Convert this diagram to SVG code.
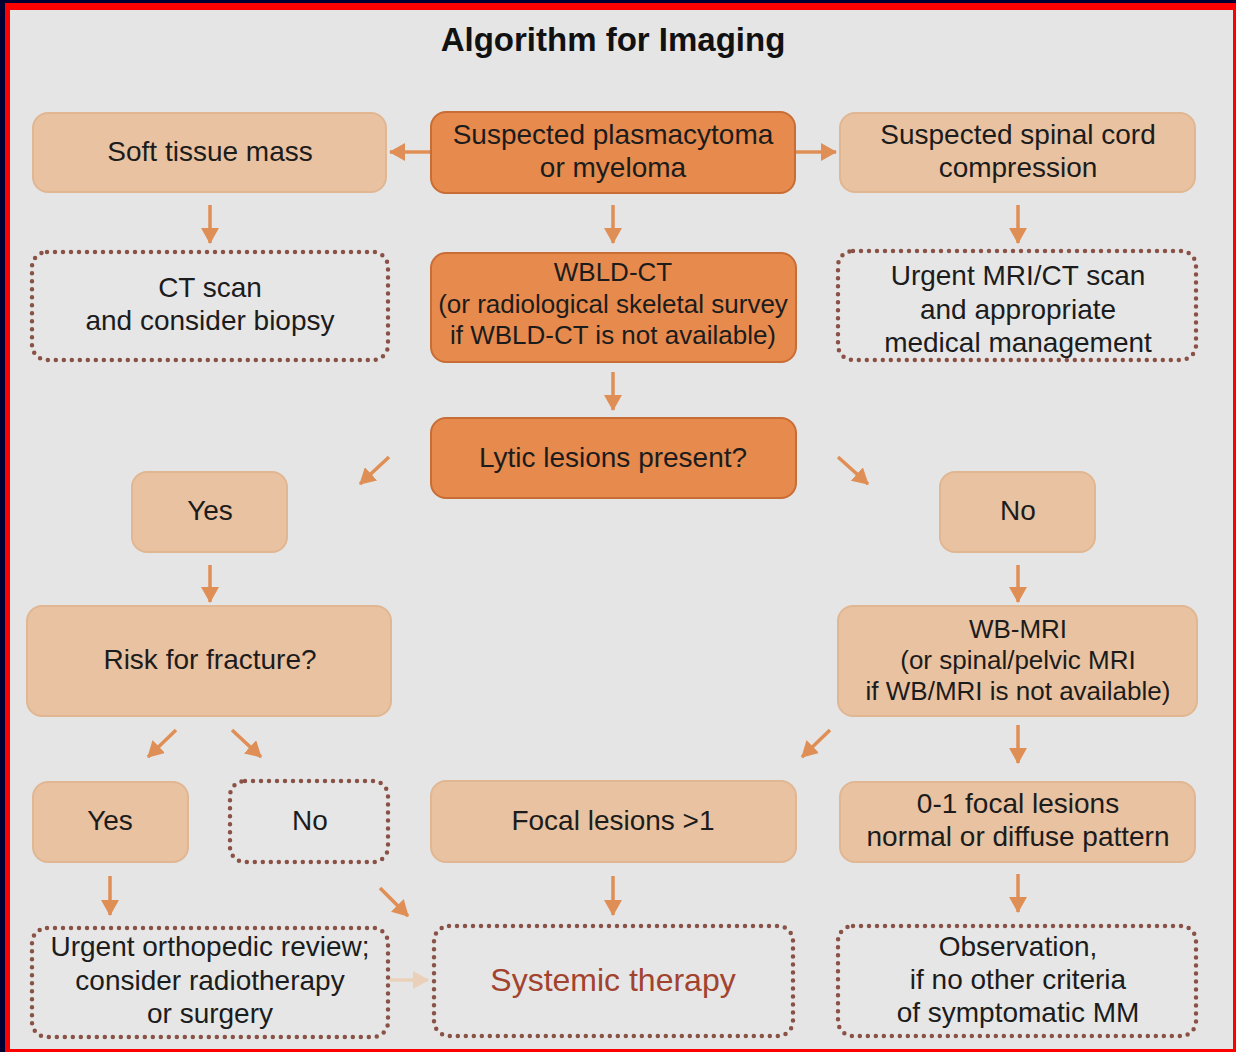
<svg xmlns="http://www.w3.org/2000/svg" width="1236" height="1052" viewBox="0 0 1236 1052">
<defs>
<style>
.t{font-family:"Liberation Sans",Arial,sans-serif;font-size:28px;fill:#1c1c1c;text-anchor:middle}
.s{font-size:26px}
.light{fill:#e9c2a1;stroke:#e1b793;stroke-width:2}
.dark{fill:#e68a4d;stroke:#c96d36;stroke-width:2}
.dot{fill:#e6e6e6;stroke:#8a5246;stroke-width:4.5;stroke-dasharray:0 8;stroke-linecap:round}
.ar{stroke:#df8f55;stroke-width:3.5;fill:none;marker-end:url(#ah)}
.arl{stroke:#ead0b8;stroke-width:3.5;fill:none;marker-end:url(#ahl)}
</style>
<marker id="ah" markerUnits="userSpaceOnUse" markerWidth="18" markerHeight="18" refX="15" refY="9" orient="auto"><path d="M0,0 L16,9 L0,18 z" fill="#df8f55"/></marker>
<marker id="ahl" markerUnits="userSpaceOnUse" markerWidth="18" markerHeight="18" refX="15" refY="9" orient="auto"><path d="M0,0 L16,9 L0,18 z" fill="#ead0b8"/></marker>
</defs>
<rect x="0" y="0" width="1236" height="1052" fill="#000033"/>
<rect x="5" y="3" width="1231" height="1049" fill="#ff0000"/>
<rect x="10" y="10" width="1223" height="1039" fill="#e5e5e5"/>
<text x="613" y="51" style="font-family:'Liberation Sans',Arial,sans-serif;font-size:33px;font-weight:bold;fill:#111;text-anchor:middle">Algorithm for Imaging</text>

<g id="connectors">
<path class="ar" d="M430,152 L390,152"/>
<path class="ar" d="M796,152 L836,152"/>
<path class="ar" d="M210,205 L210,243"/>
<path class="ar" d="M613,205 L613,243"/>
<path class="ar" d="M1018,205 L1018,243"/>
<path class="ar" d="M613,372 L613,410"/>
<path class="ar" d="M389,457 L360,484"/>
<path class="ar" d="M838,457 L868,484"/>
<path class="ar" d="M210,565 L210,602"/>
<path class="ar" d="M1018,565 L1018,602"/>
<path class="ar" d="M176,730 L148,757"/>
<path class="ar" d="M232,730 L261,757"/>
<path class="ar" d="M830,730 L802,757"/>
<path class="ar" d="M1018,725 L1018,763"/>
<path class="ar" d="M110,876 L110,915"/>
<path class="ar" d="M380,888 L408,916"/>
<path class="ar" d="M613,876 L613,915"/>
<path class="ar" d="M1018,874 L1018,912"/>
<path class="arl" d="M390,980 L428,980"/>
</g>

<g id="soft-tissue"><rect class="light" x="33" y="113" width="353" height="79" rx="15"/><text class="t" x="210" y="161">Soft tissue mass</text></g>
<g id="suspected"><rect class="dark" x="431" y="112" width="364" height="81" rx="15"/><text class="t" x="613" y="144">Suspected plasmacytoma</text><text class="t" x="613" y="177">or myeloma</text></g>
<g id="spinal"><rect class="light" x="840" y="113" width="355" height="79" rx="15"/><text class="t" x="1018" y="144">Suspected spinal cord</text><text class="t" x="1018" y="177">compression</text></g>

<g id="ct-scan"><rect class="dot" x="32" y="252" width="356" height="108" rx="15"/><text class="t" x="210" y="297">CT scan</text><text class="t" x="210" y="330">and consider biopsy</text></g>
<g id="wbld"><rect class="dark" x="431" y="253" width="365" height="109" rx="15"/><text class="t s" x="613" y="281">WBLD-CT</text><text class="t s" x="613" y="313">(or radiological skeletal survey</text><text class="t s" x="613" y="344">if WBLD-CT is not available)</text></g>
<g id="urgent-mri"><rect class="dot" x="838" y="251" width="358" height="109" rx="15"/><text class="t" x="1018" y="285">Urgent MRI/CT scan</text><text class="t" x="1018" y="319">and appropriate</text><text class="t" x="1018" y="352">medical management</text></g>

<g id="lytic"><rect class="dark" x="431" y="418" width="365" height="80" rx="15"/><text class="t" x="613" y="467">Lytic lesions present?</text></g>
<g id="yes1"><rect class="light" x="132" y="472" width="155" height="80" rx="15"/><text class="t" x="210" y="520">Yes</text></g>
<g id="no1"><rect class="light" x="940" y="472" width="155" height="80" rx="15"/><text class="t" x="1018" y="520">No</text></g>

<g id="risk"><rect class="light" x="27" y="606" width="364" height="110" rx="15"/><text class="t" x="210" y="669">Risk for fracture?</text></g>
<g id="wbmri"><rect class="light" x="838" y="606" width="359" height="110" rx="15"/><text class="t s" x="1018" y="638">WB-MRI</text><text class="t s" x="1018" y="669">(or spinal/pelvic MRI</text><text class="t s" x="1018" y="700">if WB/MRI is not available)</text></g>

<g id="yes2"><rect class="light" x="33" y="782" width="155" height="80" rx="15"/><text class="t" x="110" y="830">Yes</text></g>
<g id="no2"><rect class="dot" x="230" y="781" width="158" height="81" rx="15"/><text class="t" x="310" y="830">No</text></g>
<g id="focal"><rect class="light" x="431" y="781" width="365" height="81" rx="15"/><text class="t" x="613" y="830">Focal lesions &gt;1</text></g>
<g id="zero-one"><rect class="light" x="840" y="782" width="355" height="80" rx="15"/><text class="t" x="1018" y="813">0-1 focal lesions</text><text class="t" x="1018" y="846">normal or diffuse pattern</text></g>

<g id="ortho"><rect class="dot" x="32" y="928" width="356" height="109" rx="15"/><text class="t" x="210" y="956">Urgent orthopedic review;</text><text class="t" x="210" y="990">consider radiotherapy</text><text class="t" x="210" y="1023">or surgery</text></g>
<g id="systemic"><rect class="dot" x="434" y="926" width="359" height="110" rx="15"/><text class="t" x="613" y="991" style="font-size:32px;fill:#a2432e">Systemic therapy</text></g>
<g id="observation"><rect class="dot" x="838" y="926" width="358" height="110" rx="15"/><text class="t" x="1018" y="956">Observation,</text><text class="t" x="1018" y="989">if no other criteria</text><text class="t" x="1018" y="1022">of symptomatic MM</text></g>
</svg>
